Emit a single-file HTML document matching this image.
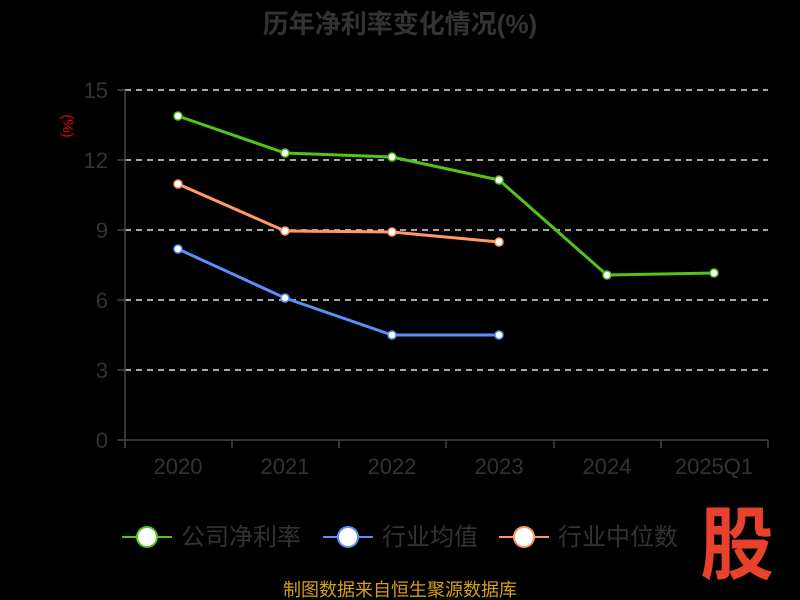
<!DOCTYPE html>
<html><head><meta charset="utf-8"><style>
html,body{margin:0;padding:0;background:#000;width:800px;height:600px;overflow:hidden}
svg text{font-family:"Liberation Sans","Noto Sans CJK SC",sans-serif}
</style></head><body>
<svg width="800" height="600" xmlns="http://www.w3.org/2000/svg">
<text x="400" y="33" text-anchor="middle" font-size="26" font-weight="bold" fill="#333">历年净利率变化情况(%)</text>
<g stroke="#ddd" stroke-width="1.5" stroke-dasharray="6,5">
<line x1="125" y1="90" x2="768" y2="90"/><line x1="125" y1="160" x2="768" y2="160"/>
<line x1="125" y1="230" x2="768" y2="230"/><line x1="125" y1="300" x2="768" y2="300"/>
<line x1="125" y1="370" x2="768" y2="370"/>
</g>
<g stroke="#444" stroke-width="1.5">
<line x1="125" y1="90" x2="125" y2="440"/><line x1="125" y1="440" x2="768" y2="440"/>
<line x1="117" y1="90" x2="125" y2="90"/><line x1="117" y1="160" x2="125" y2="160"/><line x1="117" y1="230" x2="125" y2="230"/><line x1="117" y1="300" x2="125" y2="300"/><line x1="117" y1="370" x2="125" y2="370"/><line x1="117" y1="440" x2="125" y2="440"/>
<line x1="125" y1="440" x2="125" y2="448"/><line x1="232" y1="440" x2="232" y2="448"/><line x1="339" y1="440" x2="339" y2="448"/><line x1="446" y1="440" x2="446" y2="448"/><line x1="554" y1="440" x2="554" y2="448"/><line x1="661" y1="440" x2="661" y2="448"/><line x1="768" y1="440" x2="768" y2="448"/>
</g>
<g fill="#333" font-size="22" text-anchor="end">
<text x="108" y="98">15</text><text x="108" y="168">12</text><text x="108" y="238">9</text><text x="108" y="308">6</text><text x="108" y="378">3</text><text x="108" y="448">0</text>
</g>
<g fill="#333" font-size="22" text-anchor="middle">
<text x="178" y="474">2020</text><text x="285" y="474">2021</text><text x="392" y="474">2022</text><text x="499" y="474">2023</text><text x="607" y="474">2024</text><text x="714" y="474">2025Q1</text>
</g>
<text transform="translate(63,126) rotate(90)" text-anchor="middle" fill="#e00" font-size="15">(%)</text>
<g fill="none" stroke-width="3">
<polyline stroke="#52c41a" points="178,116 285,153 392,157 499,180 607,275 714,273"/>
<polyline stroke="#5b8ff9" points="178,249 285,298 392,335 499,335"/>
<polyline stroke="#ff9966" points="178,184 285,231 392,232 499,242"/>
</g>
<g fill="#fff" stroke-width="1.5">
<g stroke="#52c41a"><circle cx="178" cy="116" r="4"/><circle cx="285" cy="153" r="4"/><circle cx="392" cy="157" r="4"/><circle cx="499" cy="180" r="4"/><circle cx="607" cy="275" r="4"/><circle cx="714" cy="273" r="4"/></g>
<g stroke="#5b8ff9"><circle cx="178" cy="249" r="4"/><circle cx="285" cy="298" r="4"/><circle cx="392" cy="335" r="4"/><circle cx="499" cy="335" r="4"/></g>
<g stroke="#ff9966"><circle cx="178" cy="184" r="4"/><circle cx="285" cy="231" r="4"/><circle cx="392" cy="232" r="4"/><circle cx="499" cy="242" r="4"/></g>
</g>
<g stroke-width="2">
<line x1="122" y1="537" x2="172" y2="537" stroke="#52c41a"/><circle cx="147" cy="537" r="10" fill="#fff" stroke="#52c41a"/>
<line x1="323" y1="537" x2="373" y2="537" stroke="#5b8ff9"/><circle cx="348" cy="537" r="10" fill="#fff" stroke="#5b8ff9"/>
<line x1="499" y1="537" x2="549" y2="537" stroke="#ff9966"/><circle cx="524" cy="537" r="10" fill="#fff" stroke="#ff9966"/>
</g>
<g fill="#333" font-size="24">
<text x="181" y="545">公司净利率</text><text x="382" y="545">行业均值</text><text x="558" y="545">行业中位数</text>
</g>
<text transform="translate(737,573) scale(0.92,1)" text-anchor="middle" font-size="80" font-weight="bold" fill="#e8412c">股</text>
<text x="400" y="596" text-anchor="middle" font-size="18" fill="#d4a017">制图数据来自恒生聚源数据库</text>
</svg>
</body></html>
